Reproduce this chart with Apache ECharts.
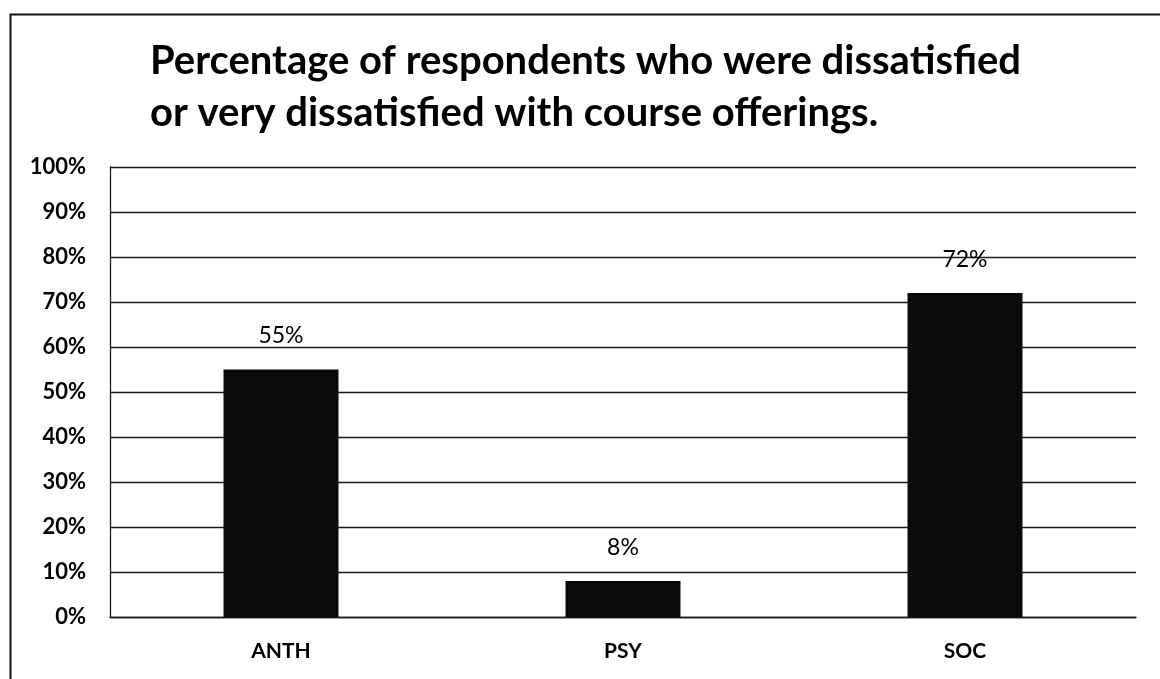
<!DOCTYPE html>
<html>
<head>
<meta charset="utf-8">
<script src="https://cdn.jsdelivr.net/npm/echarts@6/dist/echarts.min.js"></script>
<style>
    html, body { margin: 0; padding: 0; background: #fff; }
    #chart { width: 1160px; height: 679px; }
</style>
</head>
<body>
<div id="chart"></div>
<script>
var categories = ["ANTH", "PSY", "SOC"];
var values = [55, 8, 72];
var yTicks = [0, 10, 20, 30, 40, 50, 60, 70, 80, 90, 100];

var font = "Lato, 'Open Sans', sans-serif";
var chart = echarts.init(document.getElementById("chart"));

var option = {
    backgroundColor: "#fff",
    animation: false,
    textStyle: {
        fontFamily: font
    },
    title: {
        text: "Percentage of respondents who were dissatisfied\nor very dissatisfied with course offerings.",
        left: 145,
        top: 30,
        textStyle: {
            fontSize: 40,
            fontWeight: "bold",
            color: "#000",
            lineHeight: 52,
            fontFamily: font
        }
    },
    graphic: [{
        type: "rect",
        left: 8,
        top: 12,
        shape: { width: 1200, height: 720 },
        style: { fill: "none", stroke: "#111", lineWidth: 2 },
        silent: true
    }],
    grid: {
        left: 110,
        right: 24,
        top: 167,
        bottom: 62
    },
    xAxis: {
        type: "category",
        data: categories,
        axisTick: { show: false },
        axisLine: { lineStyle: { color: "#1a1a1a", width: 1.3 } },
        axisLabel: {
            margin: 24,
            fontSize: 21,
            fontWeight: "bold",
            color: "#000"
        }
    },
    yAxis: {
        type: "value",
        min: yTicks[0],
        max: yTicks[yTicks.length - 1],
        interval: 10,
        axisLine: { show: true, lineStyle: { color: "#1a1a1a", width: 1.3 } },
        axisTick: { show: false },
        splitLine: { lineStyle: { color: "#1a1a1a", width: 1.3 } },
        axisLabel: {
            margin: 24,
            fontSize: 22,
            fontWeight: "bold",
            color: "#000",
            formatter: function (v) {
                return v + "%";
            }
        }
    },
    series: [{
        type: "bar",
        data: values,
        barWidth: 115,
        itemStyle: { color: "#0a0a0a" },
        label: {
            show: true,
            position: "top",
            distance: 22,
            fontSize: 23,
            color: "#000",
            formatter: function (p) {
                return p.value + "%";
            }
        }
    }]
};

chart.setOption(option);
</script>
</body>
</html>
